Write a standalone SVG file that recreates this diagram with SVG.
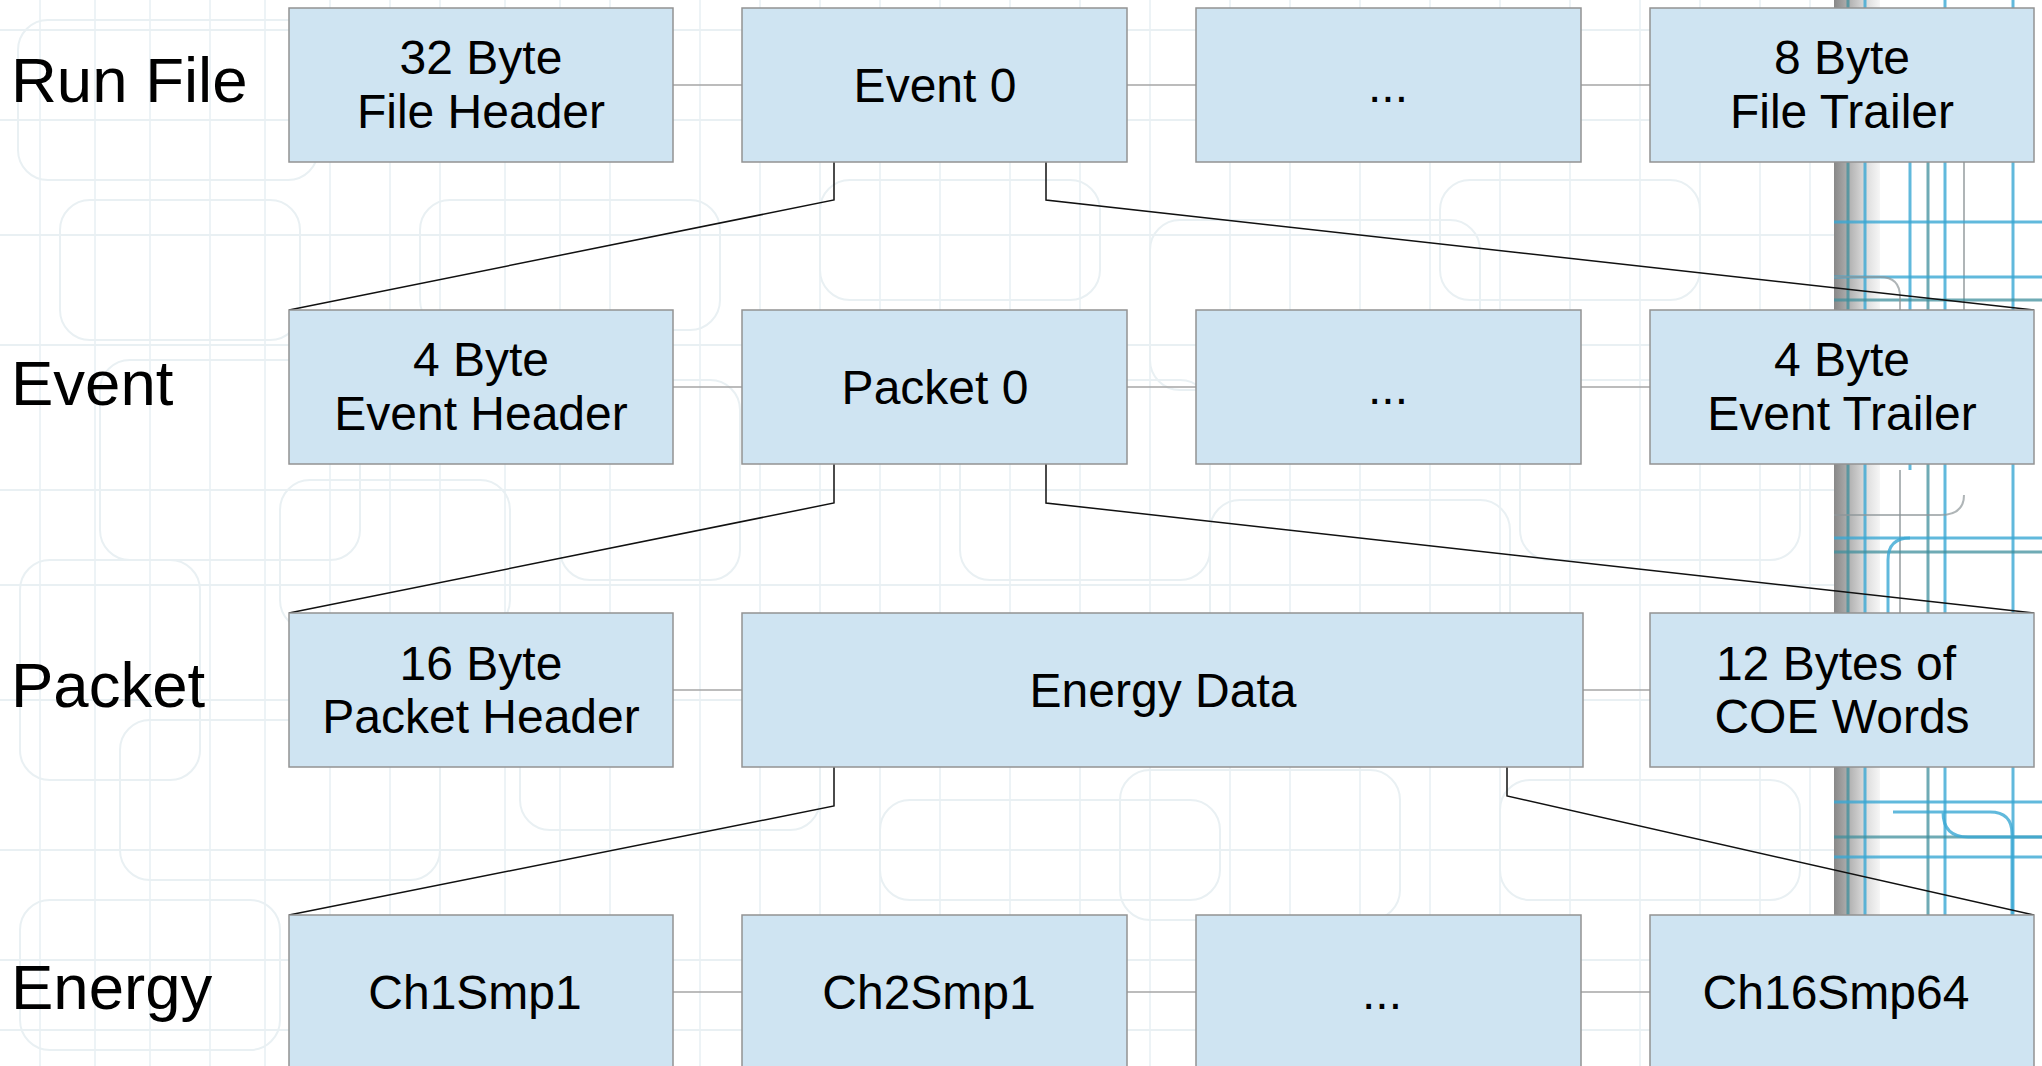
<svg xmlns="http://www.w3.org/2000/svg" width="2042" height="1066" viewBox="0 0 2042 1066">
<style>
.bg{stroke:#e7eff3;stroke-width:1.5;fill:none}
.bgr{stroke:#e9f0f3;stroke-width:2;fill:none}
.tl{stroke:#3aa7d3;stroke-width:3;fill:none;opacity:0.8}
.td{stroke:#3f8f9c;stroke-width:3;fill:none;opacity:0.75}
.tg{stroke:#8d9598;stroke-width:2;fill:none;opacity:0.7}
.box{fill:#cfe4f2;stroke:#939393;stroke-width:1.5}
.hc{stroke:#a6a6a6;stroke-width:1.5;fill:none}
.dc{stroke:#111;stroke-width:1.5;fill:none}
.lbl{font-family:"Liberation Sans",Arial,sans-serif;font-size:63.5px;fill:#000}
.t{font-family:"Liberation Sans",Arial,sans-serif;font-size:48px;fill:#000;text-anchor:middle}
</style>
<defs>
<linearGradient id="bar" x1="0" y1="0" x2="1" y2="0">
<stop offset="0" stop-color="#888888"/>
<stop offset="0.3" stop-color="#aeaeae"/>
<stop offset="0.65" stop-color="#d9d9d9"/>
<stop offset="1" stop-color="#f6f6f6"/>
</linearGradient>
</defs>
<rect x="0" y="0" width="2042" height="1066" fill="#ffffff"/>
<g id="background">
<g class="bg">
<path d="M40 0V1066M95 0V1066M150 0V1066M210 0V1066M265 0V1066M330 0V1066M390 0V1066M440 0V1066M505 0V1066M560 0V1066M610 0V1066M700 0V1066M760 0V1066M820 0V1066M880 0V1066M940 0V1066M1010 0V1066M1080 0V1066M1150 0V1066M1230 0V1066M1290 0V1066M1360 0V1066M1430 0V1066M1500 0V1066M1570 0V1066M1640 0V1066M1700 0V1066M1760 0V1066M1810 0V1066"/>
</g>
<g class="bgr">
<path d="M0 30H1834M0 120H1834M0 235H1834M0 345H1834M0 490H1834M0 585H1834M0 700H1834M0 850H1834M0 960H1834M0 1030H1834"/>
<rect x="18" y="20" width="300" height="160" rx="30"/>
<rect x="60" y="200" width="240" height="140" rx="30"/>
<rect x="100" y="360" width="260" height="200" rx="30"/>
<rect x="280" y="480" width="230" height="150" rx="30"/>
<rect x="20" y="560" width="180" height="220" rx="30"/>
<rect x="120" y="720" width="320" height="160" rx="30"/>
<rect x="20" y="900" width="260" height="150" rx="30"/>
<rect x="420" y="200" width="300" height="130" rx="30"/>
<rect x="560" y="380" width="180" height="200" rx="30"/>
<rect x="520" y="700" width="300" height="130" rx="30"/>
<rect x="820" y="180" width="280" height="120" rx="30"/>
<rect x="960" y="380" width="250" height="200" rx="30"/>
<rect x="880" y="800" width="340" height="100" rx="30"/>
<rect x="1150" y="220" width="330" height="170" rx="30"/>
<rect x="1210" y="500" width="300" height="150" rx="30"/>
<rect x="1120" y="770" width="280" height="150" rx="30"/>
<rect x="1440" y="180" width="260" height="120" rx="30"/>
<rect x="1520" y="380" width="280" height="180" rx="30"/>
<rect x="1500" y="780" width="300" height="120" rx="30"/>
</g>
<rect x="1834" y="0" width="46" height="1066" fill="url(#bar)"/>
<path class="td" d="M1848 0V1066M1928 160V1066"/>
<path class="tl" d="M1865 0V1066M1910 160V470M1945 0V1066M2013 0V1066"/>
<path class="tg" d="M1964 160V330M1900 470V640"/>
<path class="tl" d="M1834 222H2042M1834 277H2042M1834 538H2042M1834 802H2042M1834 857H2042"/>
<path class="td" d="M1834 300H2042M1834 552H2042M1834 837H2042"/>
<path class="tl" d="M1888 700V560Q1888 538 1910 538M1893 812H1990Q2012 812 2012 834V1066M1943 812Q1943 837 1968 837H2042"/>
<path class="tg" d="M1834 515H1940Q1964 515 1964 495M1834 277H1880Q1900 277 1900 297V330"/>
</g>
<g id="connectors">
<path class="hc" d="M673 85H742M1127 85H1196M1581 85H1650"/>
<path class="hc" d="M673 387H742M1127 387H1196M1581 387H1650"/>
<path class="hc" d="M673 690H742M1583 690H1650"/>
<path class="hc" d="M673 992H742M1127 992H1196M1581 992H1650"/>
<path class="dc" d="M834 162V200L289 310"/>
<path class="dc" d="M1046 162V200L2034 310"/>
<path class="dc" d="M834 464V503L289 613"/>
<path class="dc" d="M1046 464V503L2034 613"/>
<path class="dc" d="M834 767V806L289 915"/>
<path class="dc" d="M1507 767V796L2034 915"/>
</g>
<g id="row-labels">
<text class="lbl" x="11" y="102">Run File</text>
<text class="lbl" x="11" y="405">Event</text>
<text class="lbl" x="11" y="707">Packet</text>
<text class="lbl" x="11" y="1009">Energy</text>
</g>
<g id="file-header"><rect class="box" x="289" y="8" width="384" height="154"/><text class="t" x="481" y="74">32 Byte</text><text class="t" x="481" y="128">File Header</text></g>
<g id="event-0"><rect class="box" x="742" y="8" width="385" height="154"/><text class="t" x="935" y="102">Event 0</text></g>
<g id="event-more"><rect class="box" x="1196" y="8" width="385" height="154"/><text class="t" x="1388" y="102">...</text></g>
<g id="file-trailer"><rect class="box" x="1650" y="8" width="384" height="154"/><text class="t" x="1842" y="74">8 Byte</text><text class="t" x="1842" y="128">File Trailer</text></g>
<g id="event-header"><rect class="box" x="289" y="310" width="384" height="154"/><text class="t" x="481" y="376">4 Byte</text><text class="t" x="481" y="430">Event Header</text></g>
<g id="packet-0"><rect class="box" x="742" y="310" width="385" height="154"/><text class="t" x="935" y="404">Packet 0</text></g>
<g id="packet-more"><rect class="box" x="1196" y="310" width="385" height="154"/><text class="t" x="1388" y="404">...</text></g>
<g id="event-trailer"><rect class="box" x="1650" y="310" width="384" height="154"/><text class="t" x="1842" y="376">4 Byte</text><text class="t" x="1842" y="430">Event Trailer</text></g>
<g id="packet-header"><rect class="box" x="289" y="613" width="384" height="154"/><text class="t" x="481" y="680">16 Byte</text><text class="t" x="481" y="733">Packet Header</text></g>
<g id="energy-data"><rect class="box" x="742" y="613" width="841" height="154"/><text class="t" x="1163" y="707">Energy Data</text></g>
<g id="coe-words"><rect class="box" x="1650" y="613" width="384" height="154"/><text class="t" x="1836" y="680">12 Bytes of</text><text class="t" x="1842" y="733">COE Words</text></g>
<g id="ch1smp1"><rect class="box" x="289" y="915" width="384" height="154"/><text class="t" x="475" y="1009">Ch1Smp1</text></g>
<g id="ch2smp1"><rect class="box" x="742" y="915" width="385" height="154"/><text class="t" x="929" y="1009">Ch2Smp1</text></g>
<g id="ch-more"><rect class="box" x="1196" y="915" width="385" height="154"/><text class="t" x="1382" y="1009">...</text></g>
<g id="ch16smp64"><rect class="box" x="1650" y="915" width="384" height="154"/><text class="t" x="1836" y="1009">Ch16Smp64</text></g>
</svg>
